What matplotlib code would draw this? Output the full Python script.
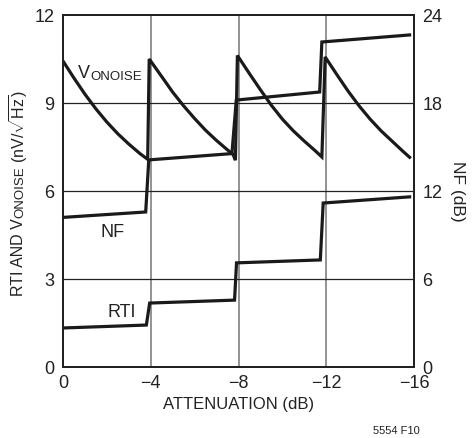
import matplotlib
matplotlib.use("Agg")
import matplotlib.pyplot as plt
from matplotlib import font_manager

# condensed font if available
names = {f.name for f in font_manager.fontManager.ttflist}
font = "Liberation Sans Narrow" if "Liberation Sans Narrow" in names else "Liberation Sans"
plt.rcParams["font.family"] = [font, "DejaVu Sans"]
plt.rcParams["mathtext.fontset"] = "custom"
plt.rcParams["mathtext.rm"] = font
plt.rcParams["mathtext.it"] = font
plt.rcParams["mathtext.default"] = "regular"

# VONOISE, left axis (nV/rtHz)
von_x = [0, -0.5, -1.0, -1.5, -2.0, -2.5, -3.0, -3.5, -3.86,
         -3.93, -4.5, -5.0, -5.5, -6.0, -6.5, -7.0, -7.5, -7.75, -7.86,
         -7.95, -8.5, -9.0, -9.5, -10.0, -10.5, -11.0, -11.5, -11.8,
         -11.95, -12.5, -13.0, -13.5, -14.0, -14.5, -15.0, -15.5, -15.8]
von_y = [10.43, 9.85, 9.3, 8.8, 8.35, 7.95, 7.6, 7.28, 7.08,
         10.5, 9.9, 9.37, 8.9, 8.47, 8.07, 7.72, 7.4, 7.25, 7.05,
         10.62, 10.0, 9.45, 8.92, 8.45, 8.05, 7.7, 7.37, 7.16,
         10.57, 9.95, 9.4, 8.9, 8.45, 8.05, 7.7, 7.35, 7.15]

# NF, right axis (dB)
nf_x = [0, -3.77, -3.91, -7.7, -7.9, -11.7, -11.8, -15.8]
nf_y = [10.2, 10.57, 14.12, 14.55, 18.2, 18.75, 22.16, 22.64]

# RTI, left axis
rti_x = [0, -3.8, -3.95, -7.82, -7.91, -11.73, -11.86, -15.8]
rti_y = [1.33, 1.43, 2.18, 2.28, 3.55, 3.65, 5.59, 5.8]

xticks = [0, -4, -8, -12, -16]
left_ticks = [0, 3, 6, 9, 12]
right_ticks = [0, 6, 12, 18, 24]

ink = "#222222"

fig = plt.figure(figsize=(4.73, 4.38), dpi=100)
ax = fig.add_axes([63/473, 1 - 367/438, (414-63)/473, (367-15)/438])
ax2 = ax.twinx()

ax.set_xlim(0, -16)
ax.set_ylim(0, 12)
ax2.set_ylim(0, 24)
ax.set_xticks(xticks)
ax.set_xticklabels(["0", "\u22124", "\u22128", "\u221212", "\u221216"])
ax.set_yticks(left_ticks)
ax2.set_yticks(right_ticks)

for x in xticks[1:-1]:
    ax.axvline(x, color="#8a8a8a", lw=1.3, zorder=1)
for y in left_ticks[1:-1]:
    ax.axhline(y, color=ink, lw=0.9, zorder=1)

lw = 2.3
ax.plot(von_x, von_y, color="#1a1a1a", lw=lw, solid_joinstyle="miter", zorder=3)
ax.plot(rti_x, rti_y, color="#1a1a1a", lw=lw, solid_joinstyle="miter", zorder=3)
ax2.plot(nf_x, nf_y, color="#1a1a1a", lw=lw, solid_joinstyle="miter", zorder=3)

for a in (ax, ax2):
    a.tick_params(length=0, labelsize=13, pad=6, colors=ink)
    for s in a.spines.values():
        s.set_linewidth(1.4)
        s.set_color(ink)

ax.set_xlabel("ATTENUATION (dB)", fontsize=12, color=ink, labelpad=3)
ax2.set_ylabel("NF (dB)", fontsize=12.5, color=ink, rotation=270, labelpad=16)

# left y label built from pieces so the subscript sits low like the original
t1 = fig.text(19/473, 0.3, "RTI AND V", rotation=90, fontsize=11.5,
              color=ink, ha="center", va="bottom")
t2 = fig.text(0, 0, "ONOISE", rotation=90, fontsize=9.5, color=ink,
              ha="center", va="bottom")
t3 = fig.text(0, 0, r" (nV/$\sqrt{Hz}$)", rotation=90, fontsize=11.5,
              color=ink, ha="center", va="bottom")
r = fig.canvas.get_renderer()


def chain(start):
    t1.set_position((19/473, start / 438))
    b1 = t1.get_window_extent(r)
    t2.set_position(((b1.x0 + b1.x1) / 2 / 473 + 1.5/473, b1.y1 / 438))
    b2 = t2.get_window_extent(r)
    t3.set_position((19/473, b2.y1 / 438))
    return t3.get_window_extent(r).y1 - start


total = chain(100)
chain(438 - 193 - total / 2)

# in-plot labels
ax.text(-0.68, 9.85, "V", fontsize=13, color=ink, va="baseline")
ax.text(-1.26, 9.78, "ONOISE", fontsize=9.5, color=ink, va="baseline")
ax.text(-2.27, 4.6, "NF", fontsize=13, color=ink, ha="center", va="center")
ax.text(-2.7, 1.85, "RTI", fontsize=13, color=ink, ha="center", va="center")

fig.text(396/473, 1 - 431/438, "5554 F10", fontsize=8, color=ink, ha="center", va="center")

fig.savefig("out.png", dpi=100)
